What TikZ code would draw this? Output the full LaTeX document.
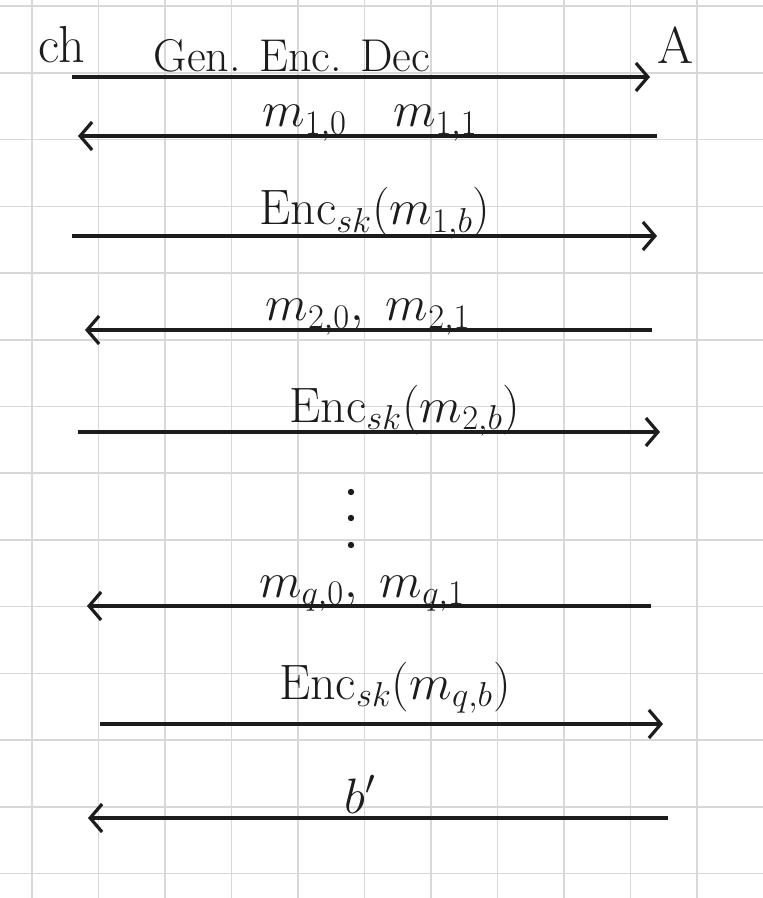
\documentclass[tikz,border=0pt]{standalone}
\usepackage{amsmath}
\usetikzlibrary{arrows.meta,positioning}
\definecolor{ink}{RGB}{28,28,28}
\definecolor{gridc}{RGB}{216,216,216}
\tikzset{
  party/.style={font=\fontsize{26}{30}\selectfont,text=ink,inner sep=1pt},
  lbl/.style={font=\fontsize{23}{27}\selectfont,text=ink,anchor=base,inner sep=0pt},
  msg/.style={draw=ink,line width=1.6pt,-{Straight Barb[length=6pt,width=14pt]}},
  paper/.style={draw=gridc,line width=0.8pt},
}

\begin{document}
\begin{tikzpicture}[x=0.5pt,y=-0.5pt]
\useasboundingbox (0,0) rectangle (763,898);
% grid paper
\foreach \gx in {0,...,11}
  \draw[paper] ({32+66.5*\gx},0) -- ({32+66.5*\gx},898);
\foreach \gy in {0,...,13}
  \draw[paper] (0,{6.3+66.7*\gy}) -- (763,{6.3+66.7*\gy});
% the two parties
\node[party] (ch) at (62,45) {ch};
\node[party] (adv) at (676,45) {A};
% end points of the messages
\coordinate (c1) at (72,77);   \coordinate (a1) at (650,77);
\coordinate (c2) at (78,136);  \coordinate (a2) at (657,136);
\coordinate (c3) at (72,236);  \coordinate (a3) at (657,236);
\coordinate (c4) at (85,330);  \coordinate (a4) at (652,330);
\coordinate (c5) at (78,432);  \coordinate (a5) at (660,432);
\coordinate (c7) at (87,606);  \coordinate (a7) at (651,606);
\coordinate (c8) at (100,724); \coordinate (a8) at (663,724);
\coordinate (c9) at (88,818);  \coordinate (a9) at (668,818);
% messages
\draw[msg] (c1) -- (a1);
\node[lbl] (t1) at (292,72) {Gen. Enc. Dec};
\draw[msg] (a2) -- (c2);
\node[lbl] (t2) at (370,127) {$m_{1,0}\quad m_{1,1}$};
\draw[msg] (c3) -- (a3);
\node[lbl] (t3) at (375,225) {$\mathrm{Enc}_{sk}(m_{1,b})$};
\draw[msg] (a4) -- (c4);
\node[lbl] (t4) at (368,321) {$m_{2,0},\ m_{2,1}$};
\draw[msg] (c5) -- (a5);
\node[lbl] (t5) at (405,422) {$\mathrm{Enc}_{sk}(m_{2,b})$};
% more rounds
\foreach \dy in {492,518,545}
  \fill[ink] (351,\dy) circle (1.6pt);
\draw[msg] (a7) -- (c7);
\node[lbl] (t7) at (362,597) {$m_{q,0},\ m_{q,1}$};
\draw[msg] (c8) -- (a8);
\node[lbl] (t8) at (395,699) {$\mathrm{Enc}_{sk}(m_{q,b})$};
\draw[msg] (a9) -- (c9);
\node[lbl] (t9) at (360,813) {$b'$};
\end{tikzpicture}
\end{document}
